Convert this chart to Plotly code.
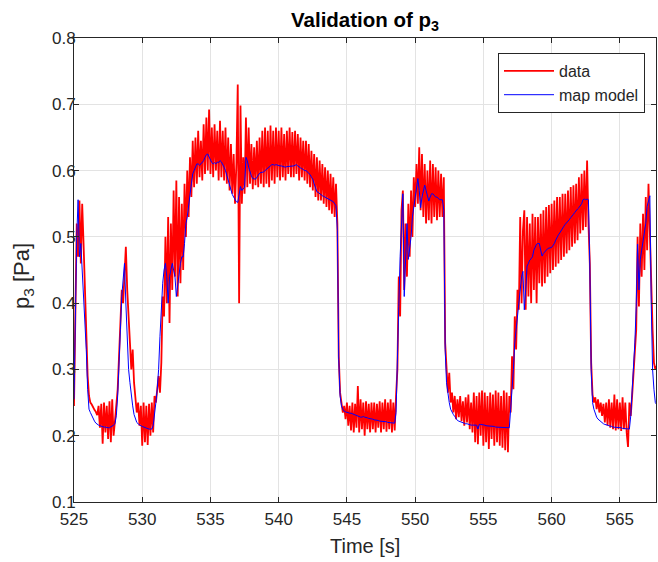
import numpy as np
import plotly.graph_objects as go

# sampling of the recorded signals
t_start = 525.0
dt = 0.1

# measured p3 (red), one row per second (10 samples each)
data_p3 = [
    0.245, 0.42, 0.52, 0.47, 0.555, 0.46, 0.55, 0.49, 0.42, 0.36,
    0.29, 0.26, 0.25, 0.247, 0.242, 0.239, 0.236, 0.231, 0.245, 0.212,
    0.248, 0.188, 0.25, 0.205, 0.245, 0.195, 0.252, 0.19, 0.255, 0.20,
    0.222, 0.245, 0.27, 0.32, 0.36, 0.42, 0.40, 0.44, 0.485, 0.42,
    0.37, 0.34, 0.30, 0.33, 0.28, 0.255, 0.235, 0.25, 0.215, 0.245,
    0.185, 0.25, 0.19, 0.245, 0.186, 0.248, 0.20, 0.25, 0.205, 0.26,
    0.25, 0.27, 0.29, 0.265, 0.31, 0.41, 0.38, 0.50, 0.40, 0.53,
    0.37, 0.52, 0.42, 0.57, 0.44, 0.585, 0.41, 0.56, 0.43, 0.55,
    0.45, 0.58, 0.50, 0.60, 0.53, 0.62, 0.56, 0.645, 0.575, 0.65,
    0.58, 0.66, 0.59, 0.645, 0.585, 0.67, 0.595, 0.68, 0.60, 0.692,
    0.595, 0.665, 0.59, 0.67, 0.60, 0.66, 0.585, 0.675, 0.59, 0.66,
    0.585, 0.665, 0.58, 0.65, 0.57, 0.64, 0.565, 0.625, 0.55, 0.61,
    0.73, 0.40, 0.698, 0.55, 0.62, 0.565, 0.68, 0.575, 0.665, 0.58,
    0.64, 0.572, 0.635, 0.578, 0.645, 0.575, 0.65, 0.58, 0.66, 0.575,
    0.665, 0.58, 0.66, 0.575, 0.668, 0.585, 0.66, 0.58, 0.665, 0.59,
    0.66, 0.585, 0.665, 0.59, 0.655, 0.585, 0.66, 0.595, 0.665, 0.59,
    0.658, 0.59, 0.66, 0.595, 0.655, 0.585, 0.65, 0.59, 0.645, 0.585,
    0.645, 0.58, 0.64, 0.575, 0.63, 0.57, 0.625, 0.56, 0.62, 0.555,
    0.615, 0.555, 0.61, 0.55, 0.605, 0.545, 0.60, 0.54, 0.595, 0.535,
    0.59, 0.53, 0.58, 0.52, 0.32, 0.265, 0.25, 0.235, 0.245, 0.225,
    0.25, 0.215, 0.245, 0.208, 0.25, 0.205, 0.248, 0.212, 0.275, 0.205,
    0.255, 0.21, 0.25, 0.20, 0.252, 0.21, 0.248, 0.205, 0.25, 0.21,
    0.25, 0.205, 0.248, 0.212, 0.252, 0.205, 0.25, 0.21, 0.255, 0.206,
    0.25, 0.21, 0.255, 0.205, 0.25, 0.208, 0.26, 0.30, 0.44, 0.38,
    0.54, 0.57, 0.42, 0.52, 0.44, 0.55, 0.47, 0.57, 0.50, 0.59,
    0.545, 0.61, 0.55, 0.635, 0.54, 0.625, 0.53, 0.61, 0.52, 0.60,
    0.525, 0.615, 0.52, 0.61, 0.53, 0.605, 0.525, 0.60, 0.53, 0.595,
    0.53, 0.59, 0.34, 0.29, 0.265, 0.295, 0.25, 0.265, 0.235, 0.26,
    0.225, 0.255, 0.228, 0.26, 0.222, 0.252, 0.215, 0.258, 0.22, 0.262,
    0.21, 0.25, 0.205, 0.265, 0.19, 0.26, 0.187, 0.265, 0.20, 0.268,
    0.185, 0.265, 0.19, 0.26, 0.18, 0.265, 0.195, 0.262, 0.185, 0.268,
    0.19, 0.265, 0.185, 0.26, 0.182, 0.268, 0.178, 0.265, 0.175, 0.26,
    0.235, 0.32, 0.27, 0.38, 0.33, 0.42, 0.39, 0.53, 0.40, 0.51,
    0.54, 0.39, 0.53, 0.41, 0.52, 0.40, 0.535, 0.42, 0.53, 0.40,
    0.53, 0.43, 0.535, 0.425, 0.54, 0.43, 0.545, 0.44, 0.548, 0.445,
    0.55, 0.45, 0.555, 0.455, 0.56, 0.46, 0.56, 0.465, 0.565, 0.47,
    0.565, 0.475, 0.57, 0.48, 0.575, 0.485, 0.578, 0.49, 0.58, 0.495,
    0.59, 0.505, 0.595, 0.51, 0.60, 0.515, 0.615, 0.52, 0.46, 0.31,
    0.262, 0.25, 0.258, 0.24, 0.255, 0.235, 0.25, 0.23, 0.248, 0.22,
    0.25, 0.215, 0.255, 0.212, 0.25, 0.21, 0.262, 0.208, 0.255, 0.21,
    0.25, 0.207, 0.258, 0.21, 0.25, 0.205, 0.183, 0.25, 0.23, 0.26,
    0.29, 0.33, 0.36, 0.50, 0.395, 0.52, 0.44, 0.535, 0.45, 0.56,
    0.48, 0.58, 0.50, 0.42, 0.36, 0.31, 0.30, 0.305,
]

# map model p3 (blue), same sampling
model_p3 = [
    0.255, 0.40, 0.50, 0.556, 0.47, 0.49, 0.45, 0.42, 0.36, 0.33,
    0.27, 0.24, 0.235, 0.23, 0.226, 0.222, 0.219, 0.217, 0.216, 0.215,
    0.214, 0.214, 0.213, 0.213, 0.212, 0.212, 0.212, 0.213, 0.215, 0.216,
    0.218, 0.23, 0.26, 0.30, 0.36, 0.41, 0.44, 0.46, 0.40, 0.34,
    0.30, 0.28, 0.26, 0.245, 0.232, 0.225, 0.22, 0.218, 0.216, 0.215,
    0.214, 0.213, 0.212, 0.211, 0.211, 0.21, 0.21, 0.21, 0.215, 0.23,
    0.25, 0.27, 0.30, 0.35, 0.40, 0.43, 0.45, 0.46, 0.44, 0.40,
    0.44, 0.45, 0.46, 0.45, 0.44, 0.41, 0.43, 0.45, 0.46, 0.47,
    0.47, 0.49, 0.52, 0.53, 0.55, 0.57, 0.58, 0.595, 0.60, 0.605,
    0.61, 0.61, 0.608, 0.61, 0.612, 0.615, 0.62, 0.624, 0.625, 0.62,
    0.615, 0.612, 0.61, 0.612, 0.61, 0.613, 0.612, 0.615, 0.613, 0.61,
    0.605, 0.60, 0.592, 0.585, 0.578, 0.57, 0.564, 0.56, 0.556, 0.553,
    0.552, 0.565, 0.576, 0.57, 0.572, 0.575, 0.62, 0.615, 0.605, 0.597,
    0.592, 0.588, 0.587, 0.587, 0.59, 0.594, 0.596, 0.597, 0.597, 0.598,
    0.60, 0.602, 0.604, 0.606, 0.608, 0.609, 0.609, 0.608, 0.609, 0.608,
    0.608, 0.607, 0.607, 0.606, 0.606, 0.605, 0.606, 0.606, 0.607, 0.606,
    0.606, 0.607, 0.608, 0.609, 0.607, 0.605, 0.604, 0.603, 0.601, 0.60,
    0.60, 0.598, 0.597, 0.594, 0.59, 0.587, 0.58, 0.574, 0.568, 0.567,
    0.565, 0.563, 0.562, 0.561, 0.56, 0.558, 0.557, 0.556, 0.555, 0.554,
    0.553, 0.55, 0.547, 0.51, 0.315, 0.26, 0.245, 0.24, 0.237, 0.236,
    0.235, 0.235, 0.234, 0.234, 0.233, 0.233, 0.232, 0.231, 0.23, 0.229,
    0.228, 0.228, 0.229, 0.228, 0.228, 0.227, 0.226, 0.226, 0.225, 0.225,
    0.224, 0.224, 0.223, 0.223, 0.222, 0.222, 0.222, 0.221, 0.221, 0.221,
    0.22, 0.22, 0.22, 0.22, 0.219, 0.219, 0.235, 0.30, 0.395, 0.47,
    0.52, 0.565, 0.41, 0.46, 0.52, 0.466, 0.48, 0.50, 0.53, 0.546,
    0.56, 0.575, 0.588, 0.57, 0.544, 0.56, 0.57, 0.578, 0.57, 0.56,
    0.554, 0.56, 0.565, 0.565, 0.562, 0.56, 0.56, 0.558, 0.556, 0.556,
    0.556, 0.54, 0.33, 0.28, 0.26, 0.25, 0.24, 0.235, 0.232, 0.229,
    0.226, 0.223, 0.222, 0.221, 0.22, 0.219, 0.219, 0.218, 0.218, 0.217,
    0.217, 0.216, 0.216, 0.216, 0.216, 0.216, 0.21, 0.217, 0.217, 0.217,
    0.216, 0.216, 0.215, 0.215, 0.215, 0.214, 0.214, 0.214, 0.214, 0.213,
    0.213, 0.213, 0.213, 0.212, 0.212, 0.212, 0.212, 0.212, 0.212, 0.212,
    0.24, 0.265, 0.30, 0.34, 0.36, 0.38, 0.40, 0.416, 0.44, 0.448,
    0.39, 0.42, 0.456, 0.46, 0.465, 0.467, 0.47, 0.48, 0.485, 0.489,
    0.49, 0.49, 0.48, 0.471, 0.475, 0.478, 0.48, 0.482, 0.483, 0.484,
    0.484, 0.487, 0.49, 0.495, 0.50, 0.503, 0.506, 0.51, 0.513, 0.516,
    0.519, 0.521, 0.523, 0.526, 0.529, 0.531, 0.534, 0.537, 0.54, 0.542,
    0.544, 0.547, 0.55, 0.556, 0.557, 0.556, 0.557, 0.556, 0.456, 0.30,
    0.25, 0.24, 0.232, 0.228, 0.225, 0.223, 0.221, 0.219, 0.218, 0.217,
    0.217, 0.216, 0.215, 0.215, 0.214, 0.213, 0.213, 0.213, 0.212, 0.212,
    0.212, 0.212, 0.211, 0.211, 0.211, 0.211, 0.211, 0.21, 0.23, 0.267,
    0.295, 0.34, 0.395, 0.489, 0.42, 0.466, 0.48, 0.495, 0.506, 0.52,
    0.546, 0.555, 0.562, 0.40, 0.30, 0.27, 0.25, 0.247,
]

x_ticks = [525, 530, 535, 540, 545, 550, 555, 560, 565]
y_ticks = [0.1, 0.2, 0.3, 0.4, 0.5, 0.6, 0.7, 0.8]
x_range = [525, 567.65]
y_range = [0.1, 0.8]

time = t_start + dt * np.arange(len(data_p3))

FONT = "Liberation Sans, Arial, Helvetica, sans-serif"
AX = "#262626"
W, H = 658, 562
L, R, T, B = 74, 2, 38, 60
PW, PH = W - L - R, H - T - B

fig = go.Figure()
fig.add_trace(go.Scatter(x=time, y=data_p3, mode="lines", name="data",
                         line=dict(color="#ff0000", width=1.8)))
fig.add_trace(go.Scatter(x=time, y=model_p3, mode="lines", name="map model",
                         line=dict(color="#0000ff", width=1)))

axis_common = dict(showline=True, linecolor=AX, linewidth=1, mirror="allticks",
                   ticks="inside", ticklen=5, tickcolor=AX, showgrid=True,
                   gridcolor="#e3e3e3", gridwidth=1, zeroline=False,
                   tickfont=dict(family=FONT, size=17, color=AX))

fig.update_xaxes(range=x_range, tickvals=x_ticks, ticklabelstandoff=2, **axis_common)
fig.update_yaxes(range=y_range, tickvals=y_ticks,
                 ticktext=[f"{v:.1f}" for v in y_ticks], ticklabelstandoff=-6,
                 **axis_common)

fig.update_layout(
    width=W, height=H,
    margin=dict(l=L, r=R, t=T, b=B),
    paper_bgcolor="white", plot_bgcolor="white",
    showlegend=True,
    legend=dict(x=(645 - L) / PW, y=(H - B - 53) / PH, xanchor="right", yanchor="top",
                bgcolor="white", bordercolor=AX, borderwidth=1,
                font=dict(family=FONT, size=16, color=AX),
                itemwidth=50, tracegroupgap=0),
    annotations=[
        dict(text="<b>Validation of p<sub>3</sub></b>", xref="paper", yref="paper",
             x=0.5, y=(H - B - 21) / PH, xanchor="center", yanchor="middle",
             showarrow=False, font=dict(family=FONT, size=20.5, color="black")),
        dict(text="p<sub>3</sub> [Pa]", xref="paper", yref="paper",
             x=(23 - L) / PW, y=(H - B - 276) / PH, xanchor="center", yanchor="middle",
             textangle=-90, showarrow=False,
             font=dict(family=FONT, size=22, color=AX)),
        dict(text="Time [s]", xref="paper", yref="paper",
             x=0.5, y=(H - B - 546) / PH, xanchor="center", yanchor="middle",
             showarrow=False, font=dict(family=FONT, size=20, color=AX)),
    ],
)

fig.write_html("out.html")
